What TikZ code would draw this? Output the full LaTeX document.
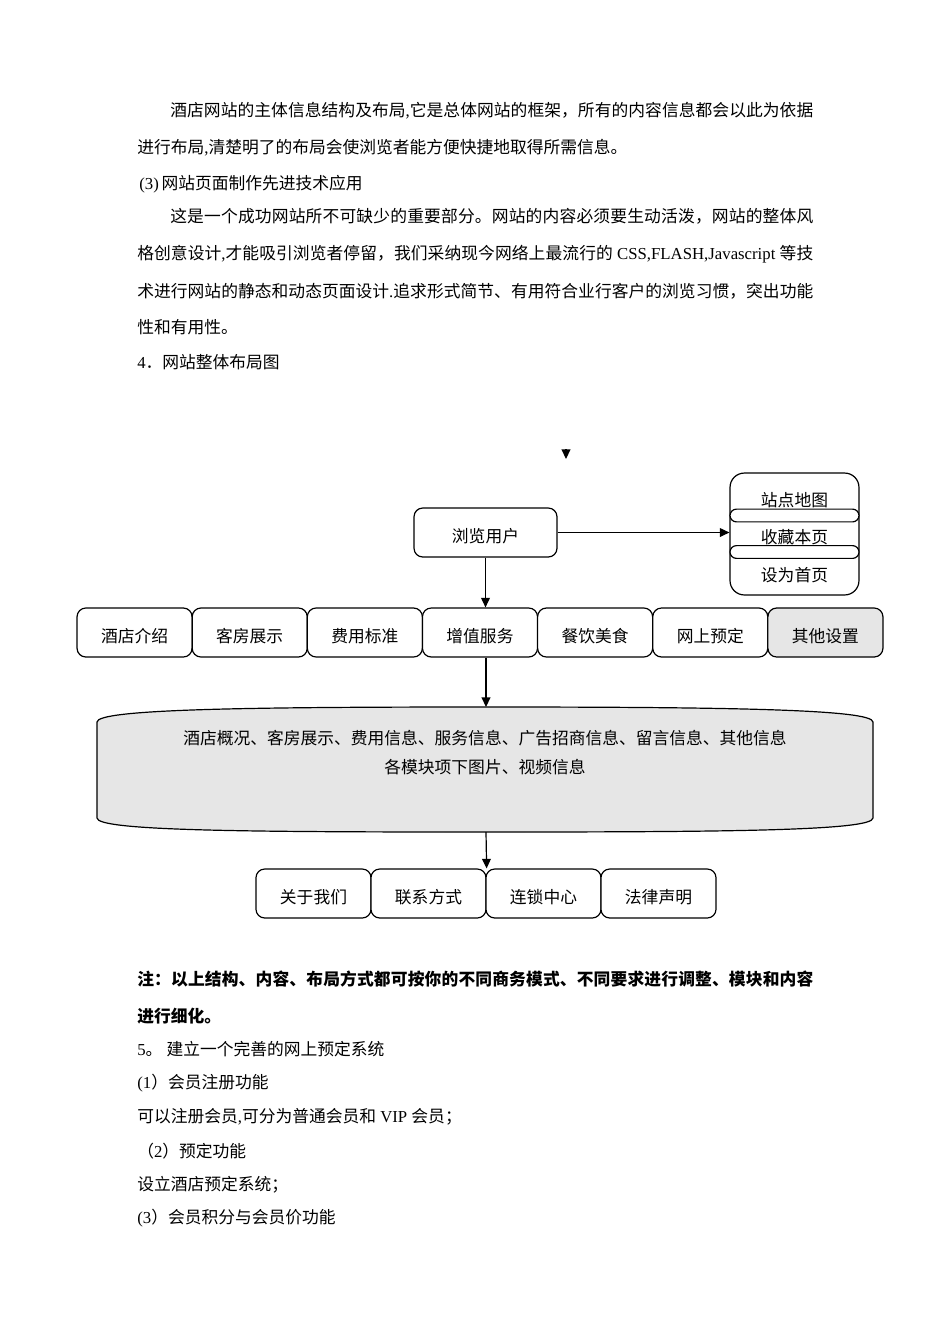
\documentclass[tikz,border=0pt]{standalone}
\usepackage{fontspec}
\setmainfont{Liberation Serif}
\newfontfamily\cjk{Noto Sans CJK SC}
\usepackage{tikz}
\usetikzlibrary{arrows.meta}
\definecolor{boxgray}{HTML}{E6E6E6}

% a little stretch between CJK characters, for the justified lines
\XeTeXinterchartokenstate=1
\newXeTeXintercharclass\hanchar
\newcount\hanc
\def\sethan#1#2{\hanc=#1 \loop\XeTeXcharclass\hanc=\hanchar\ifnum\hanc<#2 \advance\hanc by 1 \repeat}
\sethan{"3000}{"303F}
\sethan{"4E00}{"9FFF}
\sethan{"FF00}{"FFEF}
\XeTeXinterchartoks\hanchar\hanchar={\hskip 0pt plus 1pt}

\newcommand\lat[1]{{\rmfamily #1}}
\tikzstyle{txt}=[anchor=west, inner sep=0pt, font=\cjk\fontsize{10.5pt}{12pt}\selectfont]
\tikzstyle{rbox}=[draw, line width=0.75pt, rounded corners=5.5pt, fill=white, minimum width=72.1pt, minimum height=30.7pt, inner sep=0pt, text height=13.2pt, text depth=1.3pt, font=\cjk\fontsize{10.5pt}{12pt}\selectfont]
\tikzstyle{lbl}=[inner sep=0pt, font=\cjk\fontsize{10.5pt}{12pt}\selectfont]
\tikzstyle{band}=[draw, line width=0.75pt, fill=white, rounded corners=4pt, minimum width=80.8pt, minimum height=8pt, inner sep=0pt]
\tikzstyle{arr}=[line width=0.75pt, -{Triangle[length=6pt,width=5.5pt]}]

\begin{document}
\begin{tikzpicture}[x=0.6266pt, y=-0.6266pt]
    \fill[white] (0,0) rectangle (950,1344);
    \useasboundingbox (0,0) rectangle (950,1344);

    %text above
    \node[txt] (p1) at (170,111) {\hbox to 402.9pt{酒店网站的主体信息结构及布局\lat{,}它是总体网站的框架，所有的内容信息都会以此为依据}};
    \node[txt] (p2) at (137,148) {进行布局\lat{,}清楚明了的布局会使浏览者能方便快捷地取得所需信息。};
    \node[txt] (p3) at (139,184) {\lat{(3)\,}网站页面制作先进技术应用};
    \node[txt] (p4) at (170,216) {\hbox to 402.9pt{这是一个成功网站所不可缺少的重要部分。网站的内容必须要生动活泼，网站的整体风}};
    \node[txt] (p5) at (137,254) {\hbox to 423.6pt{格创意设计\lat{,}才能吸引浏览者停留，我们采纳现今网络上最流行的\lat{ CSS,FLASH,Javascript }等技}};
    \node[txt] (p6) at (137,291) {\hbox to 423.6pt{术进行网站的静态和动态页面设计\lat{.}追求形式简节、有用符合业行客户的浏览习惯，突出功能}};
    \node[txt] (p7) at (137,327) {性和有用性。};
    \node[txt] (p8) at (137,362) {\lat{4}．网站整体布局图};

    %diagram
    \coordinate (strayA) at (566,449);
    \coordinate (strayB) at (566,459);
    \draw[arr] (strayA) -- (strayB);

    \node[rbox, minimum width=89.6pt] (user) at (485.5,532.5) {浏览用户};

    \node[draw, line width=0.75pt, rounded corners=9pt, minimum width=80.8pt, minimum height=76.4pt] (links) at (794.5,534) {};
    \node[band] (band1) at (794.5,515.5) {};
    \node[band] (band2) at (794.5,552) {};
    \node[lbl] (sitemap) at (794.5,500) {站点地图};
    \node[lbl] (favpage) at (794.5,537) {收藏本页};
    \node[lbl] (homepage) at (794.5,575) {设为首页};
    \draw[arr] (user.east) -- (user.east -| links.west);

    \foreach \lab [count=\i] in {酒店介绍,客房展示,费用标准,增值服务,餐饮美食,网上预定}
        \node[rbox] (m\i) at ({77+115.14*(\i-0.5)},632.5) {\lab};
    \node[rbox, fill=boxgray] (m7) at ({77+115.14*6.5},632.5) {其他设置};
    \draw[arr] (user.south) -- (user.south |- m4.north);

    \draw[line width=0.75pt, fill=boxgray] (97,818) -- (97,722) .. controls (97,709) and (250,707) .. (485,707) .. controls (720,707) and (873,709) .. (873,722) -- (873,818) .. controls (873,831) and (720,832) .. (485,832) .. controls (250,832) and (97,831) .. (97,818) -- cycle;
    \node[lbl, align=center, font=\cjk\fontsize{10.5pt}{18.2pt}\selectfont] (info) at (485,753) {酒店概况、客房展示、费用信息、服务信息、广告招商信息、留言信息、其他信息\\各模块项下图片、视频信息};
    \coordinate (infotop) at (486,707);
    \coordinate (infobot) at (486,832);
    \draw[arr] (infotop |- m4.south) -- (infotop);

    \foreach \lab [count=\i] in {关于我们,联系方式,连锁中心,法律声明}
        \node[rbox] (b\i) at ({256+115*(\i-0.5)},893.5) {\lab};
    \draw[arr] (infobot) -- (b2.north east);

    %text below
    \node[txt, font=\cjk\bfseries\fontsize{10.5pt}{12pt}\selectfont] (n1) at (137,979) {\hbox to 423.6pt{注：以上结构、内容、布局方式都可按你的不同商务模式、不同要求进行调整、模块和内容}};
    \node[txt, font=\cjk\bfseries\fontsize{10.5pt}{12pt}\selectfont] (n2) at (137,1016) {进行细化。};
    \node[txt] (q1) at (137,1049) {\lat{5}。\lat{ }建立一个完善的网上预定系统};
    \node[txt] (q2) at (137,1083) {\lat{(1}）会员注册功能};
    \node[txt] (q3) at (137,1117) {可以注册会员\lat{,}可分为普通会员和\lat{ VIP }会员；};
    \node[txt] (q4) at (137,1151) {（\lat{2}）预定功能};
    \node[txt] (q5) at (137,1185) {设立酒店预定系统；};
    \node[txt] (q6) at (137,1218) {\lat{(3}）会员积分与会员价功能};

\end{tikzpicture}
\end{document}
